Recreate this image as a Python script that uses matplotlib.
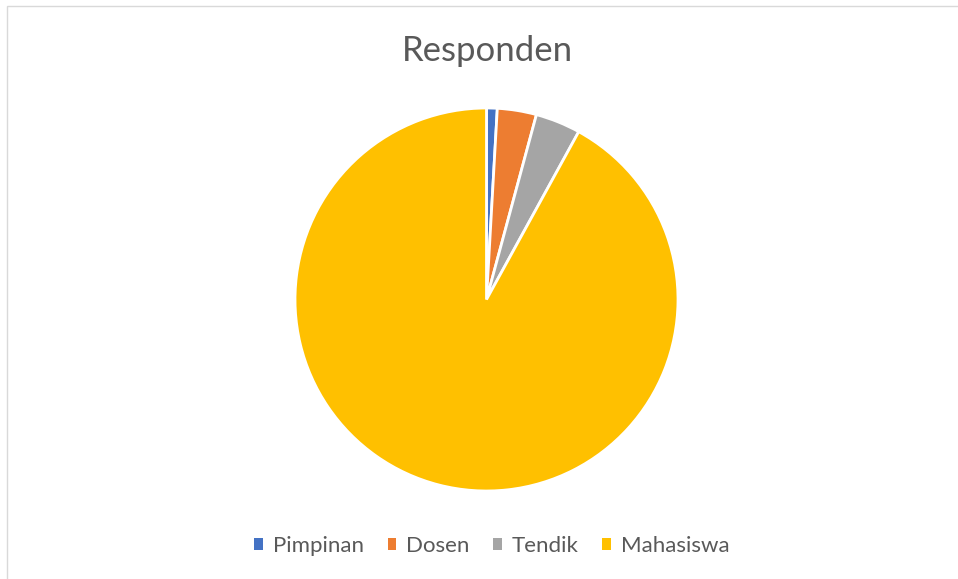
import matplotlib
matplotlib.use("Agg")
import matplotlib.pyplot as plt
from matplotlib.patches import Rectangle, Patch

categories = ["Pimpinan", "Dosen", "Tendik", "Mahasiswa"]
values = [0.9, 3.3, 3.8, 92.0]
colors = ["#4472C4", "#ED7D31", "#A5A5A5", "#FFC000"]

W, H = 958, 579
fig = plt.figure(figsize=(W / 100, H / 100), dpi=100)
fig.patch.set_facecolor("white")

# chart border
fig.patches.append(Rectangle((6.5 / W, -0.01), 1.2, (H - 6.5) / H + 0.01,
                             transform=fig.transFigure, fill=False,
                             edgecolor="#D9D9D9", linewidth=1.0))

cx, cy, r = 486.5, 299.5, 191.5
ax = fig.add_axes([(cx - r) / W, (H - cy - r) / H, 2 * r / W, 2 * r / H])
ax.pie(values, colors=colors, startangle=90, counterclock=False, radius=1,
       wedgeprops=dict(edgecolor="white", linewidth=2.0))
ax.set_xlim(-1, 1)
ax.set_ylim(-1, 1)
ax.set_aspect("auto")
ax.axis("off")

fig.text(487 / W, 1 - 51 / H, "Responden", ha="center", va="center",
         fontsize=25, color="#595959", family="Lato")

handles = [Patch(facecolor=c, edgecolor="none") for c in colors]
leg = fig.legend(handles, categories, loc="center", bbox_to_anchor=(492 / W, 1 - 546 / H),
                 ncol=4, frameon=False, handlelength=0.4, handleheight=0.4,
                 handletextpad=0.45, columnspacing=1.05,
                 prop=dict(family="Lato", size=16))
for t in leg.get_texts():
    t.set_color("#595959")

fig.savefig("out.png", dpi=100)
